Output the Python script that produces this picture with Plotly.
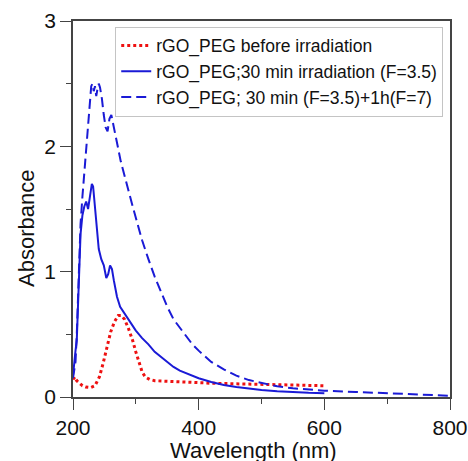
import plotly.graph_objects as go

# Wavelength (nm) / Absorbance data
wl_before = [200, 203, 206, 210, 215, 220, 228, 235, 242, 248, 254, 260, 266, 272, 277, 282, 288,
             295, 300, 305, 310, 315, 322, 330, 350, 380, 420, 460, 500, 550, 600]
abs_before = [0.14, 0.16, 0.13, 0.11, 0.09, 0.08, 0.075, 0.09, 0.16, 0.27, 0.40, 0.52, 0.60, 0.65,
              0.65, 0.62, 0.55, 0.45, 0.36, 0.27, 0.20, 0.16, 0.14, 0.13, 0.125, 0.12, 0.11, 0.105,
              0.10, 0.095, 0.09]

wl_30min = [200, 202, 204, 206, 208, 210, 212, 215, 218, 221, 224, 227, 230, 232, 235, 238, 241,
            245, 249, 253, 256, 259, 262, 265, 270, 275, 280, 285, 290, 295, 300, 310, 320, 330,
            340, 350, 360, 370, 380, 400, 420, 440, 460, 480, 500, 525, 550, 575, 600]
abs_30min = [0.17, 0.30, 0.37, 0.45, 0.75, 1.05, 1.30, 1.45, 1.52, 1.56, 1.50, 1.60, 1.70, 1.68,
             1.52, 1.32, 1.18, 1.10, 1.05, 0.95, 0.98, 1.05, 1.02, 0.93, 0.80, 0.72, 0.68, 0.65,
             0.60, 0.56, 0.53, 0.47, 0.42, 0.36, 0.32, 0.28, 0.24, 0.21, 0.19, 0.15, 0.12, 0.095,
             0.08, 0.066, 0.055, 0.045, 0.038, 0.033, 0.03]

wl_1h = [200, 202, 204, 206, 208, 210, 212, 215, 218, 221, 224, 227, 229, 231, 233, 235, 237, 239,
         241, 243, 246, 249, 252, 255, 258, 261, 264, 268, 272, 276, 280, 285, 290, 295, 300, 310,
         320, 330, 340, 350, 360, 370, 380, 390, 400, 420, 440, 460, 480, 500, 525, 550, 575, 600,
         650, 700, 750, 800]
abs_1h = [0.15, 0.22, 0.28, 0.50, 0.85, 1.15, 1.38, 1.60, 1.80, 1.95, 2.20, 2.42, 2.48, 2.50, 2.44,
          2.48, 2.40, 2.46, 2.50, 2.47, 2.38, 2.25, 2.15, 2.12, 2.22, 2.25, 2.18, 2.10, 1.98, 1.88,
          1.80, 1.71, 1.62, 1.52, 1.43, 1.25, 1.10, 0.96, 0.84, 0.72, 0.62, 0.55, 0.48, 0.42, 0.37,
          0.28, 0.22, 0.17, 0.135, 0.11, 0.085, 0.07, 0.06, 0.05, 0.04, 0.03, 0.02, 0.01]

names = ["rGO_PEG before irradiation",
         "rGO_PEG;30 min irradiation (F=3.5)",
         "rGO_PEG; 30 min (F=3.5)+1h(F=7)"]
x_title = "Wavelength (nm)"
y_title = "Absorbance"

RED = "#ee1111"
BLUE = "#1a1ad6"
FONT = "Arial, Liberation Sans, sans-serif"

fig = go.Figure()
fig.add_trace(go.Scatter(x=wl_before, y=abs_before, mode="lines", name=names[0],
                         line=dict(color=RED, width=3, dash="dot")))
fig.add_trace(go.Scatter(x=wl_30min, y=abs_30min, mode="lines", name=names[1],
                         line=dict(color=BLUE, width=2)))
fig.add_trace(go.Scatter(x=wl_1h, y=abs_1h, mode="lines", name=names[2],
                         line=dict(color=BLUE, width=2, dash="10px,5px")))

axis_common = dict(showline=True, linecolor="#444", linewidth=1.5, mirror=True,
                   ticks="outside", ticklen=11, tickwidth=1.2, tickcolor="#444",
                   showgrid=False, zeroline=False,
                   tickfont=dict(family=FONT, size=21, color="#111"))

fig.update_layout(
    width=468, height=461,
    margin=dict(l=73, r=18, t=21, b=64, autoexpand=False),
    paper_bgcolor="white", plot_bgcolor="white",
    font=dict(family=FONT, color="#111"),
    showlegend=True,
    legend=dict(x=0.112, y=0.985, xanchor="left", yanchor="top",
                bgcolor="white", bordercolor="#c4c4c4", borderwidth=1,
                font=dict(family=FONT, size=17.5, color="#111"),
                itemwidth=30, tracegroupgap=0),
    xaxis=dict(range=[200, 800], dtick=200, tick0=200,
               minor=dict(dtick=100, ticklen=5, ticks="outside", tickcolor="#444"),
               **axis_common),
    yaxis=dict(range=[0, 3], dtick=1,
               minor=dict(dtick=0.5, ticklen=5, ticks="outside", tickcolor="#444"),
               **axis_common),
    annotations=[
        dict(text=x_title, xref="paper", yref="paper", x=0.48, y=-0.143,
             xanchor="center", yanchor="middle", showarrow=False,
             font=dict(family=FONT, size=22, color="#111")),
        dict(text=y_title, xref="paper", yref="paper", x=-0.122, y=0.447,
             xanchor="center", yanchor="middle", showarrow=False, textangle=-90,
             font=dict(family=FONT, size=22, color="#111")),
    ],
)

fig.write_html("out.html", config={"displayModeBar": False},
               post_script="document.body.style.margin='0';document.body.style.overflow='hidden';")
